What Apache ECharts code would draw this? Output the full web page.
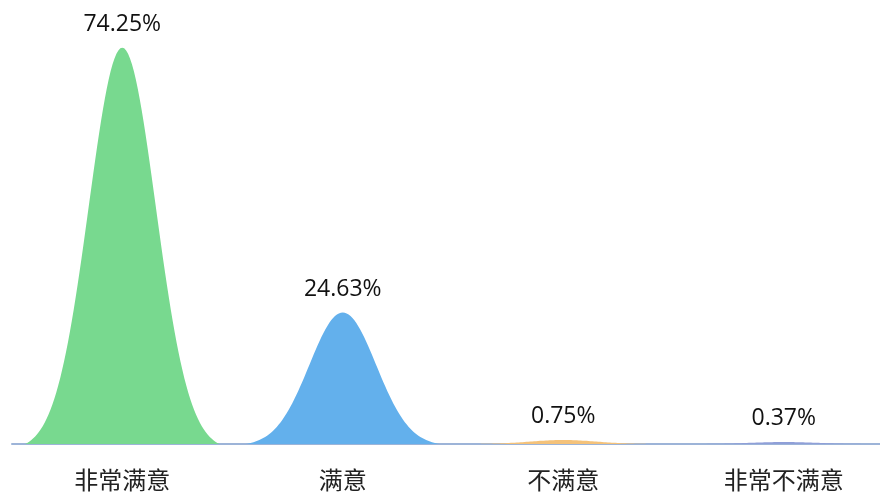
<!DOCTYPE html>
<html>
<head>
<meta charset="utf-8">
<script src="https://cdn.jsdelivr.net/npm/echarts@6/dist/echarts.min.js"></script>
<style>html,body{margin:0;padding:0;background:#fff}#c{width:880px;height:493px}</style>
</head>
<body>
<div id="c"></div>
<script>
const categories = ['非常满意', '满意', '不满意', '非常不满意'];
const values = [74.25, 24.63, 0.75, 0.37];
const labels = ['74.25%', '24.63%', '0.75%', '0.37%'];
const colors = ['#78d98f', '#63b0ec', '#f4c27a', '#8f9fd8'];

// bell-shaped symbol outline (shape only, not data)
function bellPath() {
  let d = 'path://M0,100';
  const n = 100, half = 2.9;
  const e0 = Math.exp(-half * half / 2);
  for (let i = 0; i <= n; i++) {
    const x = i * 100 / n;
    const t = (x / 100 * 2 - 1) * half;
    const h = (Math.exp(-t * t / 2) - e0) / (1 - e0);
    d += ' L' + x.toFixed(2) + ',' + (100 - 100 * h).toFixed(2);
  }
  d += ' Z';
  return d;
}
const bell = bellPath();

const chart = echarts.init(document.getElementById('c'));
chart.setOption({
  animation: false,
  grid: { left: 12, width: 882, top: 17, bottom: 49, outerBoundsMode: 'none', containLabel: false },
  xAxis: {
    type: 'category',
    data: categories,
    axisTick: { show: false },
    axisLine: { lineStyle: { color: '#9db4d8', width: 2 } },
    axisLabel: { color: '#222', fontSize: 24, margin: 24, fontFamily: 'Noto Sans CJK SC' }
  },
  yAxis: {
    type: 'value', min: 0, max: 80,
    show: false, splitLine: { show: false }
  },
  series: [{
    type: 'pictorialBar',
    symbol: bell,
    symbolSize: ['88%', '100%'],
    barCategoryGap: '0%',
    z: 1,
    data: values.map((v, i) => ({
      value: v,
      itemStyle: { color: colors[i] },
      label: { formatter: labels[i] }
    })),
    label: {
      show: true, position: 'top', distance: 12,
      color: '#111', fontSize: 23, fontFamily: 'Open Sans'
    }
  }]
});
</script>
</body>
</html>
